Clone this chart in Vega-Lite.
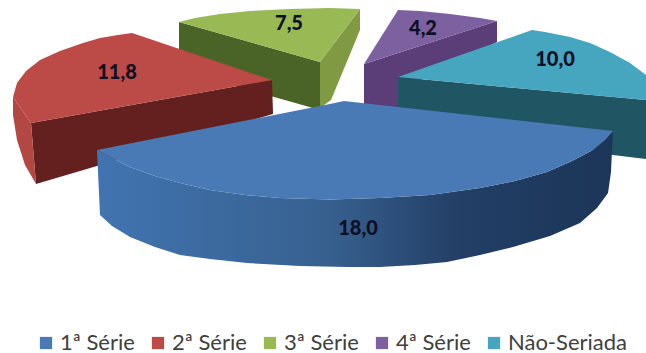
{
"$schema":"https://vega.github.io/schema/vega-lite/v6.json",
"width":646,"height":353,
"autosize":{"type":"fit","contains":"padding"},
"padding":0,
"background":"white",
"config":{"view":{"stroke":null},"locale":{"number":{"decimal":",","thousands":".","grouping":[3],"currency":["",""]}}},
"datasets":{
"series":[
{"serie":"1ª Série","valor":18.0,"lx":358,"ly":229},
{"serie":"2ª Série","valor":11.8,"lx":117,"ly":73},
{"serie":"3ª Série","valor":7.5,"lx":289,"ly":24},
{"serie":"4ª Série","valor":4.2,"lx":423,"ly":29},
{"serie":"Não-Seriada","valor":10.0,"lx":555,"ly":60}
],
"contorno":[
{"face":"roxo-lado","ordem":1,"x":364,"y":64},{"face":"roxo-lado","ordem":2,"x":497,"y":21},{"face":"roxo-lado","ordem":3,"x":497,"y":42},{"face":"roxo-lado","ordem":4,"x":400,"y":90},{"face":"roxo-lado","ordem":5,"x":400,"y":110},{"face":"roxo-lado","ordem":6,"x":364,"y":110},
{"face":"roxo-topo","serie":"4ª Série","ordem":1,"x":364,"y":64},{"face":"roxo-topo","serie":"4ª Série","ordem":2,"x":398,"y":10},{"face":"roxo-topo","serie":"4ª Série","ordem":3,"x":420,"y":11},{"face":"roxo-topo","serie":"4ª Série","ordem":4,"x":450,"y":14},{"face":"roxo-topo","serie":"4ª Série","ordem":5,"x":480,"y":18},{"face":"roxo-topo","serie":"4ª Série","ordem":6,"x":497,"y":21},
{"face":"verde-frente","ordem":1,"x":179,"y":22},{"face":"verde-frente","ordem":2,"x":320,"y":62},{"face":"verde-frente","ordem":3,"x":320,"y":110},{"face":"verde-frente","ordem":4,"x":179,"y":70},
{"face":"verde-lado","ordem":1,"x":320,"y":62},{"face":"verde-lado","ordem":2,"x":360,"y":9},{"face":"verde-lado","ordem":3,"x":360,"y":30},{"face":"verde-lado","ordem":4,"x":331,"y":100},{"face":"verde-lado","ordem":5,"x":320,"y":108},
{"face":"verde-topo","serie":"3ª Série","ordem":1,"x":179,"y":22},{"face":"verde-topo","serie":"3ª Série","ordem":2,"x":195,"y":18},{"face":"verde-topo","serie":"3ª Série","ordem":3,"x":220,"y":14},{"face":"verde-topo","serie":"3ª Série","ordem":4,"x":250,"y":11},{"face":"verde-topo","serie":"3ª Série","ordem":5,"x":290,"y":9},{"face":"verde-topo","serie":"3ª Série","ordem":6,"x":330,"y":8},{"face":"verde-topo","serie":"3ª Série","ordem":7,"x":360,"y":9},{"face":"verde-topo","serie":"3ª Série","ordem":8,"x":320,"y":62},
{"face":"azulclaro-frente","ordem":1,"x":398,"y":77},{"face":"azulclaro-frente","ordem":2,"x":646,"y":100},{"face":"azulclaro-frente","ordem":3,"x":646,"y":159},{"face":"azulclaro-frente","ordem":4,"x":613,"y":155},{"face":"azulclaro-frente","ordem":5,"x":398,"y":110},
{"face":"azulclaro-topo","serie":"Não-Seriada","ordem":1,"x":398,"y":77},{"face":"azulclaro-topo","serie":"Não-Seriada","ordem":2,"x":532,"y":30},{"face":"azulclaro-topo","serie":"Não-Seriada","ordem":3,"x":545,"y":32},{"face":"azulclaro-topo","serie":"Não-Seriada","ordem":4,"x":570,"y":37},{"face":"azulclaro-topo","serie":"Não-Seriada","ordem":5,"x":590,"y":43},{"face":"azulclaro-topo","serie":"Não-Seriada","ordem":6,"x":610,"y":52},{"face":"azulclaro-topo","serie":"Não-Seriada","ordem":7,"x":630,"y":63},{"face":"azulclaro-topo","serie":"Não-Seriada","ordem":8,"x":646,"y":75},{"face":"azulclaro-topo","serie":"Não-Seriada","ordem":9,"x":646,"y":100},
{"face":"vermelho-frente","ordem":1,"x":31,"y":123},{"face":"vermelho-frente","ordem":2,"x":272,"y":80},{"face":"vermelho-frente","ordem":3,"x":273,"y":114},{"face":"vermelho-frente","ordem":4,"x":36,"y":184},
{"face":"vermelho-lado","ordem":1,"x":13,"y":97},{"face":"vermelho-lado","ordem":2,"x":31,"y":123},{"face":"vermelho-lado","ordem":3,"x":36,"y":184},{"face":"vermelho-lado","ordem":4,"x":25,"y":165},{"face":"vermelho-lado","ordem":5,"x":17,"y":140},{"face":"vermelho-lado","ordem":6,"x":13,"y":115},
{"face":"vermelho-topo","serie":"2ª Série","ordem":1,"x":272,"y":80},{"face":"vermelho-topo","serie":"2ª Série","ordem":2,"x":132,"y":33},{"face":"vermelho-topo","serie":"2ª Série","ordem":3,"x":118,"y":35},{"face":"vermelho-topo","serie":"2ª Série","ordem":4,"x":100,"y":38},{"face":"vermelho-topo","serie":"2ª Série","ordem":5,"x":83,"y":43},{"face":"vermelho-topo","serie":"2ª Série","ordem":6,"x":60,"y":51},{"face":"vermelho-topo","serie":"2ª Série","ordem":7,"x":40,"y":60},{"face":"vermelho-topo","serie":"2ª Série","ordem":8,"x":26,"y":71},{"face":"vermelho-topo","serie":"2ª Série","ordem":9,"x":17,"y":83},{"face":"vermelho-topo","serie":"2ª Série","ordem":10,"x":13,"y":97},{"face":"vermelho-topo","serie":"2ª Série","ordem":11,"x":31,"y":123},
{"face":"azul-lado","ordem":1,"x":97,"y":150},{"face":"azul-lado","ordem":2,"x":112,"y":158},{"face":"azul-lado","ordem":3,"x":130,"y":167},{"face":"azul-lado","ordem":4,"x":155,"y":176},{"face":"azul-lado","ordem":5,"x":180,"y":183},{"face":"azul-lado","ordem":6,"x":210,"y":190},{"face":"azul-lado","ordem":7,"x":245,"y":195},{"face":"azul-lado","ordem":8,"x":280,"y":198},{"face":"azul-lado","ordem":9,"x":330,"y":199.5},{"face":"azul-lado","ordem":10,"x":380,"y":198},{"face":"azul-lado","ordem":11,"x":430,"y":195},{"face":"azul-lado","ordem":12,"x":480,"y":188},{"face":"azul-lado","ordem":13,"x":515,"y":181},{"face":"azul-lado","ordem":14,"x":547,"y":172},{"face":"azul-lado","ordem":15,"x":572,"y":161},{"face":"azul-lado","ordem":16,"x":593,"y":150},{"face":"azul-lado","ordem":17,"x":605,"y":140},{"face":"azul-lado","ordem":18,"x":613,"y":131},{"face":"azul-lado","ordem":19,"x":612,"y":150},{"face":"azul-lado","ordem":20,"x":611,"y":172},{"face":"azul-lado","ordem":21,"x":608,"y":193},{"face":"azul-lado","ordem":22,"x":597,"y":208},{"face":"azul-lado","ordem":23,"x":580,"y":223},{"face":"azul-lado","ordem":24,"x":550,"y":236},{"face":"azul-lado","ordem":25,"x":513,"y":247},{"face":"azul-lado","ordem":26,"x":480,"y":255},{"face":"azul-lado","ordem":27,"x":447,"y":262},{"face":"azul-lado","ordem":28,"x":415,"y":265},{"face":"azul-lado","ordem":29,"x":380,"y":267},{"face":"azul-lado","ordem":30,"x":347,"y":267},{"face":"azul-lado","ordem":31,"x":300,"y":266},{"face":"azul-lado","ordem":32,"x":247,"y":263},{"face":"azul-lado","ordem":33,"x":210,"y":259},{"face":"azul-lado","ordem":34,"x":180,"y":255},{"face":"azul-lado","ordem":35,"x":155,"y":247},{"face":"azul-lado","ordem":36,"x":130,"y":237},{"face":"azul-lado","ordem":37,"x":112,"y":226},{"face":"azul-lado","ordem":38,"x":100,"y":215},
{"face":"azul-topo","serie":"1ª Série","ordem":1,"x":97,"y":150},{"face":"azul-topo","serie":"1ª Série","ordem":2,"x":330,"y":104},{"face":"azul-topo","serie":"1ª Série","ordem":3,"x":344,"y":101},{"face":"azul-topo","serie":"1ª Série","ordem":4,"x":613,"y":131},{"face":"azul-topo","serie":"1ª Série","ordem":5,"x":605,"y":140},{"face":"azul-topo","serie":"1ª Série","ordem":6,"x":593,"y":150},{"face":"azul-topo","serie":"1ª Série","ordem":7,"x":572,"y":161},{"face":"azul-topo","serie":"1ª Série","ordem":8,"x":547,"y":172},{"face":"azul-topo","serie":"1ª Série","ordem":9,"x":515,"y":181},{"face":"azul-topo","serie":"1ª Série","ordem":10,"x":480,"y":188},{"face":"azul-topo","serie":"1ª Série","ordem":11,"x":430,"y":195},{"face":"azul-topo","serie":"1ª Série","ordem":12,"x":380,"y":198},{"face":"azul-topo","serie":"1ª Série","ordem":13,"x":330,"y":199.5},{"face":"azul-topo","serie":"1ª Série","ordem":14,"x":280,"y":198},{"face":"azul-topo","serie":"1ª Série","ordem":15,"x":245,"y":195},{"face":"azul-topo","serie":"1ª Série","ordem":16,"x":210,"y":190},{"face":"azul-topo","serie":"1ª Série","ordem":17,"x":180,"y":183},{"face":"azul-topo","serie":"1ª Série","ordem":18,"x":155,"y":176},{"face":"azul-topo","serie":"1ª Série","ordem":19,"x":130,"y":167},{"face":"azul-topo","serie":"1ª Série","ordem":20,"x":112,"y":158}
]},
"data":{"name":"contorno"},
"encoding":{
"x":{"field":"x","type":"quantitative","axis":null,"scale":{"domain":[0,646]}},
"y":{"field":"y","type":"quantitative","axis":null,"scale":{"domain":[353,0]}},
"order":{"field":"ordem","type":"quantitative"}
},
"layer":[
{"transform":[{"filter":"datum.face==='roxo-lado'"}],"mark":{"type":"line","fill":"#5b3d78","strokeWidth":0},"encoding":{}},
{"transform":[{"filter":"datum.face==='roxo-topo'"}],"mark":{"type":"line","strokeWidth":0},"encoding":{"fill":{"field":"serie","type":"nominal"}}},
{"transform":[{"filter":"datum.face==='verde-frente'"}],"mark":{"type":"line","fill":"#4a6327","strokeWidth":0},"encoding":{}},
{"transform":[{"filter":"datum.face==='verde-lado'"}],"mark":{"type":"line","fill":"#7f9a42","strokeWidth":0},"encoding":{}},
{"transform":[{"filter":"datum.face==='verde-topo'"}],"mark":{"type":"line","strokeWidth":0},"encoding":{"fill":{"field":"serie","type":"nominal"}}},
{"transform":[{"filter":"datum.face==='azulclaro-frente'"}],"mark":{"type":"line","fill":"#205563","strokeWidth":0},"encoding":{}},
{"transform":[{"filter":"datum.face==='azulclaro-topo'"}],"mark":{"type":"line","strokeWidth":0},"encoding":{"fill":{"field":"serie","type":"nominal"}}},
{"transform":[{"filter":"datum.face==='vermelho-frente'"}],"mark":{"type":"line","fill":"#63201e","strokeWidth":0},"encoding":{}},
{"transform":[{"filter":"datum.face==='vermelho-lado'"}],"mark":{"type":"line","fill":"#b24744","strokeWidth":0},"encoding":{}},
{"transform":[{"filter":"datum.face==='vermelho-topo'"}],"mark":{"type":"line","strokeWidth":0},"encoding":{"fill":{"field":"serie","type":"nominal"}}},
{"transform":[{"filter":"datum.face==='azul-lado'"}],"mark":{"type":"line","strokeWidth":0,"fill":{"gradient":"linear","x1":0,"y1":0,"x2":1,"y2":0,"stops":[{"offset":0,"color":"#4174b0"},{"offset":0.45,"color":"#37608f"},{"offset":0.7,"color":"#233f66"},{"offset":1,"color":"#1c3558"}]}},"encoding":{}},
{"transform":[{"filter":"datum.face==='azul-topo'"}],"mark":{"type":"line","strokeWidth":0},"encoding":{"fill":{"field":"serie","type":"nominal","scale":{"domain":["1ª Série","2ª Série","3ª Série","4ª Série","Não-Seriada"],"range":["#4a7ab5","#bc4a47","#98b954","#7d60a0","#46a5bf"]},"legend":{"title":null,"orient":"none","legendX":35,"legendY":332,"direction":"horizontal","columns":5,"symbolType":"square","symbolSize":150,"symbolStrokeWidth":0,"labelFont":"Lato","labelFontSize":22,"labelColor":"#404040","columnPadding":12,"labelOffset":3}}}},
{"data":{"name":"series"},"mark":{"type":"text","font":"Lato","fontWeight":900,"fontSize":20,"color":"#0d1024"},"encoding":{"x":{"field":"lx","type":"quantitative"},"y":{"field":"ly","type":"quantitative"},"text":{"field":"valor","type":"quantitative","format":".1f"},"order":{"value":null}}}
]
}
